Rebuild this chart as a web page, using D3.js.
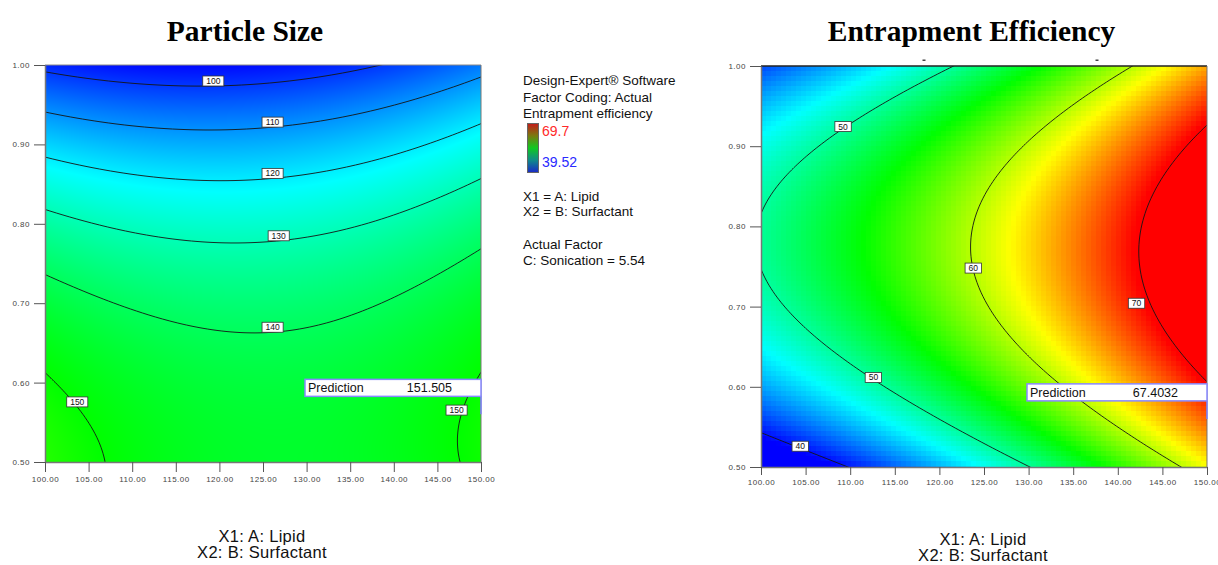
<!DOCTYPE html>
<html lang="en">

<head>
    <meta charset="UTF-8">
    <title>Particle Size / Entrapment Efficiency</title>
    <script src="https://d3js.org/d3.v7.min.js"></script>
    <style>
        body { margin: 0; background: #fff; }
        svg text { font-family: "Liberation Sans", Arial, sans-serif; }
    </style>
</head>

<body>
    <svg id="chart" width="1218" height="565"></svg>

    <script>
        // factor levels of the read-off grid
        const lipid = [100, 110, 120, 130, 140, 150];
        const surfactant = [0.5, 0.6, 0.7, 0.8, 0.9, 1.0];

        // response read at each grid point, one row per surfactant level (0.5 -> 1.0)
        const particleSize = [
            [153.8, 148.6, 145.8, 145.3, 147.1, 151.2],
            [150.7, 146.0, 143.6, 143.5, 145.8, 150.4],
            [143.6, 139.3, 137.4, 137.8, 140.5, 145.6],
            [132.4, 128.7, 127.2, 128.1, 131.3, 136.8],
            [117.3, 114.0, 113.0, 114.4, 118.0, 124.0],
            [98.2, 95.4, 94.8, 96.6, 100.8, 107.2]
        ];
        const entrapment = [
            [36.0, 40.1, 44.8, 49.9, 55.6, 61.9],
            [44.3, 48.3, 52.9, 57.9, 63.5, 69.6],
            [49.0, 52.9, 57.3, 62.3, 67.8, 73.8],
            [50.2, 53.9, 58.2, 63.1, 68.5, 74.4],
            [47.7, 51.4, 55.6, 60.3, 65.6, 71.4],
            [41.6, 45.2, 49.3, 53.9, 59.1, 64.8]
        ];

        const sizeLevels = [100, 110, 120, 130, 140, 150];
        const eeLevels = [40, 50, 60, 70];
        const xTicks = [100, 105, 110, 115, 120, 125, 130, 135, 140, 145, 150];
        const yTicks = [0.5, 0.6, 0.7, 0.8, 0.9, 1.0];

        // response value at blue, cyan, green, yellow, red
        const sizeRamp = [94, 122, 150, 178, 206];
        const eeRamp = [39.52, 47.065, 54.61, 62.155, 69.7];
        const eeRange = ["69.7", "39.52"];

        const predictionPoint = [150, 0.56];
        const predictions = ["151.505", "67.4032"];

        const svg = d3.select("#chart");
        const rampColors = ["#0000ff", "#00ffff", "#00ff00", "#ffff00", "#ff0000"];

        // least squares quadratic (like Design-Expert's model) through the grid
        function fitSurface(grid) {
            const terms = (a, b) => [1, a, b, a * b, a * a, b * b];
            const n = 6;
            const M = Array.from({ length: n }, () => new Array(n + 1).fill(0));
            surfactant.forEach((yv, i) => {
                lipid.forEach((xv, j) => {
                    const t = terms((xv - 125) / 25, (yv - 0.75) / 0.25);
                    for (let r = 0; r < n; r++) {
                        for (let c = 0; c < n; c++) M[r][c] += t[r] * t[c];
                        M[r][n] += t[r] * grid[i][j];
                    }
                });
            });
            for (let c = 0; c < n; c++) {
                let p = c;
                for (let r = c + 1; r < n; r++) if (Math.abs(M[r][c]) > Math.abs(M[p][c])) p = r;
                [M[c], M[p]] = [M[p], M[c]];
                for (let r = 0; r < n; r++) {
                    if (r === c) continue;
                    const k = M[r][c] / M[c][c];
                    for (let q = c; q <= n; q++) M[r][q] -= k * M[c][q];
                }
            }
            const coef = M.map((row, i) => row[n] / row[i]);
            return (xv, yv) => {
                const t = terms((xv - 125) / 25, (yv - 0.75) / 0.25);
                return d3.sum(t, (v, i) => v * coef[i]);
            };
        }

        function drawContourPlot(cfg) {
            const { left, top, width, height, id } = cfg;
            const x = d3.scaleLinear().domain([100, 150]).range([left, left + width]);
            const y = d3.scaleLinear().domain([0.5, 1.0]).range([top + height, top]);
            const f = fitSurface(cfg.grid);
            const color = d3.scaleLinear().domain(cfg.ramp).range(rampColors).clamp(true);

            // colour raster
            const canvas = document.createElement("canvas");
            canvas.width = width;
            canvas.height = height;
            const ctx = canvas.getContext("2d");
            const cell = cfg.cell;
            for (let py = 0; py < height; py += cell) {
                for (let px = 0; px < width; px += cell) {
                    const v = f(x.invert(left + px + cell / 2), y.invert(top + py + cell / 2));
                    ctx.fillStyle = color(v);
                    ctx.fillRect(px, py, cell, cell);
                }
            }
            svg.append("image")
                .attr("x", left)
                .attr("y", top)
                .attr("width", width)
                .attr("height", height)
                .attr("preserveAspectRatio", "none")
                .attr("href", canvas.toDataURL());

            // contour lines on a grid that runs past the frame, then clipped
            const step = 2, pad = 6;
            const ox = left - pad, oy = top - pad;
            const nx = Math.ceil((width + 2 * pad) / step) + 1;
            const ny = Math.ceil((height + 2 * pad) / step) + 1;
            const values = new Float64Array(nx * ny);
            for (let j = 0; j < ny; j++) {
                for (let i = 0; i < nx; i++) {
                    values[j * nx + i] = f(x.invert(ox + i * step), y.invert(oy + j * step));
                }
            }
            const contours = d3.contours().size([nx, ny]).thresholds(cfg.levels)(values);
            const path = d3.geoPath(d3.geoTransform({
                point(px, py) { this.stream.point(ox + (px - 0.5) * step, oy + (py - 0.5) * step); }
            }));

            svg.append("clipPath").attr("id", id + "-clip")
                .append("rect")
                .attr("x", left).attr("y", top)
                .attr("width", width).attr("height", height);

            svg.append("g")
                .attr("clip-path", `url(#${id}-clip)`)
                .selectAll("path")
                .data(contours)
                .join("path")
                .attr("d", path)
                .attr("fill", "none")
                .attr("stroke", "#151515")
                .attr("stroke-width", 0.9);

            // contour labels, pulled onto their line
            const labelG = svg.append("g");
            cfg.labels.forEach(([level, xv, yGuess]) => {
                let yv = yGuess;
                for (let k = 0; k < 20; k++) {
                    const d = (f(xv, yv + 1e-4) - f(xv, yv - 1e-4)) / 2e-4;
                    yv -= (f(xv, yv) - level) / d;
                }
                const w = String(level).length * 4.7 + 7;
                const cx = x(xv), cy = y(yv) + cfg.labelDy;
                labelG.append("rect")
                    .attr("x", cx - w / 2).attr("y", cy - 5)
                    .attr("width", w).attr("height", 10)
                    .attr("fill", "#fff")
                    .attr("stroke", "#333")
                    .attr("stroke-width", 0.8);
                labelG.append("text")
                    .attr("x", cx).attr("y", cy + 3)
                    .attr("text-anchor", "middle")
                    .style("font-size", "8.5px")
                    .attr("fill", "#111")
                    .text(level);
            });

            // frame
            svg.append("line")
                .attr("x1", left).attr("x2", left + width)
                .attr("y1", top).attr("y2", top)
                .attr("stroke", cfg.topStroke).attr("stroke-width", cfg.topWidth);
            svg.append("line")
                .attr("x1", left + width).attr("x2", left + width)
                .attr("y1", top).attr("y2", top + height)
                .attr("stroke", "#777").attr("stroke-width", 1);

            // axes
            const yAxis = svg.append("g")
                .attr("transform", `translate(${left},0)`)
                .call(d3.axisLeft(y).tickValues(yTicks).tickFormat(d3.format(".2f"))
                    .tickSize(11).tickSizeOuter(0).tickPadding(4));
            const xAxis = svg.append("g")
                .attr("transform", `translate(0,${top + height})`)
                .call(d3.axisBottom(x).tickValues(xTicks).tickFormat(d3.format(".2f"))
                    .tickSize(cfg.xTickSize).tickSizeOuter(0).tickPadding(4));
            [yAxis, xAxis].forEach(ax => {
                ax.select(".domain").attr("stroke", "#777").attr("stroke-width", 1.5);
                ax.selectAll(".tick line").attr("stroke", "#555");
                ax.selectAll(".tick text")
                    .attr("fill", "#444")
                    .style("font-size", "8px")
                    .style("letter-spacing", "0.5px");
            });

            // title and axis captions
            svg.append("text")
                .attr("x", cfg.titleX)
                .attr("y", 41)
                .attr("text-anchor", "middle")
                .style("font-family", '"Liberation Serif", "Times New Roman", serif')
                .style("font-size", "29.5px")
                .style("font-weight", "bold")
                .text(cfg.title);
            ["X1: A: Lipid", "X2: B: Surfactant"].forEach((t, i) => {
                svg.append("text")
                    .attr("x", cfg.captionX)
                    .attr("y", cfg.captionY + i * 16)
                    .attr("text-anchor", "middle")
                    .style("font-size", "16.5px")
                    .style("letter-spacing", "0.3px")
                    .attr("fill", "#111")
                    .text(t);
            });

            // prediction flag
            const px = x(predictionPoint[0]), py = y(predictionPoint[1]);
            const boxW = cfg.boxW, boxH = 17;
            svg.append("line")
                .attr("x1", px).attr("x2", px)
                .attr("y1", py - 18).attr("y2", py)
                .attr("stroke", "#8080ff").attr("stroke-width", 1.5);
            svg.append("rect")
                .attr("x", px - boxW).attr("y", py - 18 - boxH)
                .attr("width", boxW).attr("height", boxH)
                .attr("fill", "#fff")
                .attr("stroke", "#8888ff")
                .attr("stroke-width", 1.5);
            svg.append("text")
                .attr("x", px - boxW + 3).attr("y", py - 22)
                .style("font-size", "12.5px")
                .attr("fill", "#111")
                .text("Prediction");
            svg.append("text")
                .attr("x", px - 29).attr("y", py - 22)
                .attr("text-anchor", "end")
                .style("font-size", "12.5px")
                .attr("fill", "#111")
                .text(cfg.prediction);
        }

        drawContourPlot({
            id: "ps",
            left: 45, top: 65, width: 436, height: 397,
            grid: particleSize, levels: sizeLevels, ramp: sizeRamp, cell: 1,
            labels: [[100, 119.3, 0.976], [110, 126.1, 0.925], [120, 126.1, 0.86],
                [130, 126.8, 0.79], [140, 126.1, 0.67], [150, 103.7, 0.573], [150, 147.2, 0.577]],
            labelDy: -5,
            topStroke: "#888", topWidth: 1, xTickSize: 10,
            title: "Particle Size", titleX: 245, captionX: 262, captionY: 542,
            prediction: predictions[0], boxW: 176
        });

        drawContourPlot({
            id: "ee",
            left: 761, top: 66, width: 446, height: 401,
            grid: entrapment, levels: eeLevels, ramp: eeRamp, cell: 5,
            labels: [[50, 109.2, 0.93], [50, 112.6, 0.613], [40, 104.4, 0.53],
                [60, 123.8, 0.741], [70, 142.1, 0.777]],
            labelDy: -2,
            topStroke: "#222", topWidth: 1.5, xTickSize: 8,
            title: "Entrapment Efficiency", titleX: 971.5, captionX: 983, captionY: 545,
            prediction: predictions[1], boxW: 180
        });

        // stray marks above the right frame
        [924, 1097].forEach(mx => {
            svg.append("rect")
                .attr("x", mx - 1.5).attr("y", 59.5)
                .attr("width", 3).attr("height", 1.5)
                .attr("fill", "#444");
        });

        // Design-Expert legend
        const legend = svg.append("g").attr("transform", "translate(523,0)");
        const grad = svg.append("defs").append("linearGradient")
            .attr("id", "eeBar")
            .attr("x1", 0).attr("x2", 0).attr("y1", 0).attr("y2", 1);
        [["0%", "#c41a1a"], ["25%", "#7a7a10"], ["50%", "#10c820"], ["75%", "#108a8a"], ["100%", "#1a28c8"]]
            .forEach(([o, c]) => grad.append("stop").attr("offset", o).attr("stop-color", c));

        [["Design-Expert® Software", 85], ["Factor Coding: Actual", 101.5], ["Entrapment efficiency", 117.5],
            ["X1 = A: Lipid", 200.5], ["X2 = B: Surfactant", 216], ["Actual Factor", 248.5],
            ["C: Sonication = 5.54", 264.5]].forEach(([t, ty]) => {
            legend.append("text")
                .attr("x", 0).attr("y", ty)
                .style("font-size", "13.5px")
                .attr("fill", "#111")
                .text(t);
        });
        legend.append("rect")
            .attr("x", 4.5).attr("y", 123.5)
            .attr("width", 11).attr("height", 49)
            .attr("fill", "url(#eeBar)")
            .attr("stroke", "#666");
        legend.append("text")
            .attr("x", 19).attr("y", 136)
            .style("font-size", "14px")
            .attr("fill", "#ff2a2a")
            .text(eeRange[0]);
        legend.append("text")
            .attr("x", 19).attr("y", 166.5)
            .style("font-size", "14px")
            .attr("fill", "#2a2aff")
            .text(eeRange[1]);
    </script>
</body>

</html>
